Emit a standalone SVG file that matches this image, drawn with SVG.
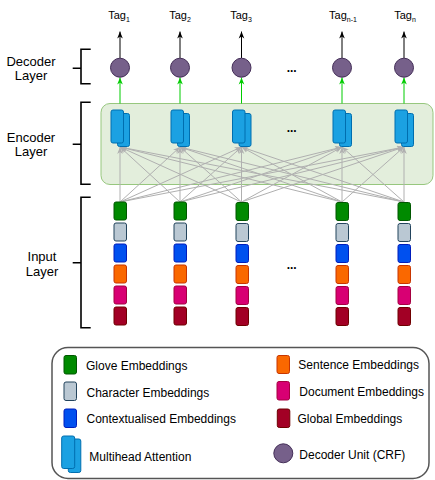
<svg xmlns="http://www.w3.org/2000/svg" width="435" height="480" viewBox="0 0 435 480">
<style>
text{font-family:"Liberation Sans",Arial,sans-serif;fill:#000}
.lbl{font-size:13px;text-anchor:middle}
.leg{font-size:12px}
.tag{font-size:11px;text-anchor:middle}
.sub{font-size:7px}
.dots{font-size:12px;text-anchor:middle;font-weight:bold}
.br{fill:none;stroke:#000;stroke-width:1.6}
.gray{stroke:#b0b0b0;stroke-width:1;fill:none}
.blk{stroke:#000;stroke-width:1;fill:none}
.grn{stroke:#00cc00;stroke-width:1;fill:none}
.mh{fill:#1ba1e2;stroke:#006eaf;stroke-width:1}
.dec{fill:#76608a;stroke:#432d57;stroke-width:1}
.e1{fill:#008a00;stroke:#005700}
.e2{fill:#bac8d3;stroke:#23445d}
.e3{fill:#0050ef;stroke:#001dbc}
.e4{fill:#fa6800;stroke:#c73500}
.e5{fill:#d80073;stroke:#a50040}
.e6{fill:#a20025;stroke:#6f0000}
</style>
<defs>
<marker id="ag" viewBox="0 0 10 10" refX="10" refY="5" markerWidth="7" markerHeight="7" orient="auto" markerUnits="userSpaceOnUse"><path d="M0,1 L10,5 L0,9 L3,5 z" fill="#b0b0b0"/></marker>
<marker id="ab" viewBox="0 0 10 10" refX="10" refY="5" markerWidth="7" markerHeight="7" orient="auto" markerUnits="userSpaceOnUse"><path d="M0,1 L10,5 L0,9 L3,5 z" fill="#000"/></marker>
<marker id="agr" viewBox="0 0 10 10" refX="10" refY="5" markerWidth="7" markerHeight="7" orient="auto" markerUnits="userSpaceOnUse"><path d="M0,1 L10,5 L0,9 L3,5 z" fill="#00cc00"/></marker>
<g id="mhb">
<rect x="6.5" y="3.5" width="12" height="33" rx="2" class="mh"/>
<rect x="0" y="0" width="12.5" height="33" rx="2" class="mh"/>
</g>
<g id="col">
<rect x="0" y="0" width="12.5" height="18" rx="2" class="e1"/>
<rect x="0" y="21" width="12.5" height="18" rx="2" class="e2"/>
<rect x="0" y="42" width="12.5" height="18" rx="2" class="e3"/>
<rect x="0" y="63" width="12.5" height="18" rx="2" class="e4"/>
<rect x="0" y="84" width="12.5" height="18" rx="2" class="e5"/>
<rect x="0" y="105" width="12.5" height="18" rx="2" class="e6"/>
</g>
</defs>

<g id="labels">
<text class="lbl" x="31" y="66">Decoder</text>
<text class="lbl" x="31" y="80">Layer</text>
<text class="lbl" x="31" y="142">Encoder</text>
<text class="lbl" x="31" y="156">Layer</text>
<text class="lbl" x="42" y="260.7">Input</text>
<text class="lbl" x="42" y="275.7">Layer</text>
</g>

<g id="brackets">
<path class="br" d="M90.7,49.3 H81 V83.7 H90.7 M72.7,68.3 H81"/>
<path class="br" d="M90.7,102.3 H81 V184.3 H90.7 M72.7,144.3 H81"/>
<path class="br" d="M90.7,197.3 H81 V327.7 H90.7 M72.7,262.7 H81"/>
</g>

<g id="encoder-box">
<rect x="101" y="103.5" width="332" height="81" rx="9" fill="#e3eedc" stroke="#97c77e" stroke-width="1"/>
</g>

<g id="connectors">
<g class="gray" marker-end="url(#ag)">
<line x1="120" y1="202" x2="120" y2="147"/><line x1="120" y1="202" x2="180" y2="147"/><line x1="120" y1="202" x2="241.5" y2="147"/><line x1="120" y1="202" x2="342" y2="147"/><line x1="120" y1="202" x2="404" y2="147"/>
<line x1="180" y1="202" x2="120" y2="147"/><line x1="180" y1="202" x2="180" y2="147"/><line x1="180" y1="202" x2="241.5" y2="147"/><line x1="180" y1="202" x2="342" y2="147"/><line x1="180" y1="202" x2="404" y2="147"/>
<line x1="241.5" y1="202" x2="120" y2="147"/><line x1="241.5" y1="202" x2="180" y2="147"/><line x1="241.5" y1="202" x2="241.5" y2="147"/><line x1="241.5" y1="202" x2="342" y2="147"/><line x1="241.5" y1="202" x2="404" y2="147"/>
<line x1="342" y1="202" x2="120" y2="147"/><line x1="342" y1="202" x2="180" y2="147"/><line x1="342" y1="202" x2="241.5" y2="147"/><line x1="342" y1="202" x2="342" y2="147"/><line x1="342" y1="202" x2="404" y2="147"/>
<line x1="404" y1="202" x2="120" y2="147"/><line x1="404" y1="202" x2="180" y2="147"/><line x1="404" y1="202" x2="241.5" y2="147"/><line x1="404" y1="202" x2="342" y2="147"/><line x1="404" y1="202" x2="404" y2="147"/>
</g>
<g class="grn" marker-end="url(#agr)">
<line x1="120" y1="103.5" x2="120" y2="77.5"/><line x1="180" y1="103.5" x2="180" y2="77.5"/><line x1="241.5" y1="103.5" x2="241.5" y2="77.5"/><line x1="342" y1="103.5" x2="342" y2="77.5"/><line x1="404" y1="103.5" x2="404" y2="77.5"/>
</g>
<g class="blk" marker-end="url(#ab)">
<line x1="120" y1="58" x2="120" y2="31.5"/><line x1="180" y1="58" x2="180" y2="31.5"/><line x1="241.5" y1="58" x2="241.5" y2="31.5"/><line x1="342" y1="58" x2="342" y2="31.5"/><line x1="404" y1="58" x2="404" y2="31.5"/>
</g>
</g>

<g id="tags">
<text class="tag" x="119" y="18.5">Tag<tspan class="sub" dy="3">1</tspan></text>
<text class="tag" x="180" y="18.5">Tag<tspan class="sub" dy="3">2</tspan></text>
<text class="tag" x="241" y="18.5">Tag<tspan class="sub" dy="3">3</tspan></text>
<text class="tag" x="343" y="18.5">Tag<tspan class="sub" dy="3">n-1</tspan></text>
<text class="tag" x="405" y="18.5">Tag<tspan class="sub" dy="3">n</tspan></text>
</g>

<g id="decoders">
<circle class="dec" cx="120" cy="67.7" r="9.5"/>
<circle class="dec" cx="180" cy="67.7" r="9.5"/>
<circle class="dec" cx="241.5" cy="67.7" r="9.5"/>
<circle class="dec" cx="342" cy="67.7" r="9.5"/>
<circle class="dec" cx="404" cy="67.7" r="9.5"/>
</g>

<g id="encoders">
<use href="#mhb" x="111" y="110"/>
<use href="#mhb" x="171" y="110"/>
<use href="#mhb" x="232.5" y="110"/>
<use href="#mhb" x="333" y="110"/>
<use href="#mhb" x="395" y="110"/>
</g>

<g id="inputs">
<use href="#col" x="114" y="202"/>
<use href="#col" x="174" y="202"/>
<use href="#col" x="236" y="202.5"/>
<use href="#col" x="336" y="202.5"/>
<use href="#col" x="398" y="202.5"/>
</g>

<g id="ellipses">
<text class="dots" x="291.7" y="71.5">...</text>
<text class="dots" x="291.7" y="132">...</text>
<text class="dots" x="291.7" y="268.5">...</text>
</g>

<g id="legend">
<rect x="52" y="347.5" width="377" height="131" rx="16" fill="#fff" stroke="#555" stroke-width="1.5"/>
<rect x="64" y="355.5" width="12.5" height="18.5" rx="2" class="e1"/>
<rect x="64" y="382" width="12.5" height="18.5" rx="2" class="e2"/>
<rect x="64" y="409" width="12.5" height="18.5" rx="2" class="e3"/>
<rect x="68.3" y="439" width="12.5" height="33.5" rx="2" class="mh"/>
<rect x="61.7" y="436" width="13" height="32.5" rx="2" class="mh"/>
<rect x="277" y="355.5" width="12.5" height="18" rx="2" class="e4"/>
<rect x="277" y="381.5" width="12.5" height="18.5" rx="2" class="e5"/>
<rect x="277.3" y="409" width="12.5" height="18.5" rx="2" class="e6"/>
<circle class="dec" cx="283.3" cy="453.3" r="9.5"/>
<text class="leg" x="86" y="369.5">Glove Embeddings</text>
<text class="leg" x="86.5" y="396.5">Character Embeddings</text>
<text class="leg" x="86.5" y="422.5">Contextualised Embeddings</text>
<text class="leg" x="89.3" y="460.5">Multihead Attention</text>
<text class="leg" x="298.3" y="368.5">Sentence Embeddings</text>
<text class="leg" x="299.3" y="395.7">Document Embeddings</text>
<text class="leg" x="297.5" y="422.5">Global Embeddings</text>
<text class="leg" x="299.3" y="459">Decoder Unit (CRF)</text>
</g>
</svg>
